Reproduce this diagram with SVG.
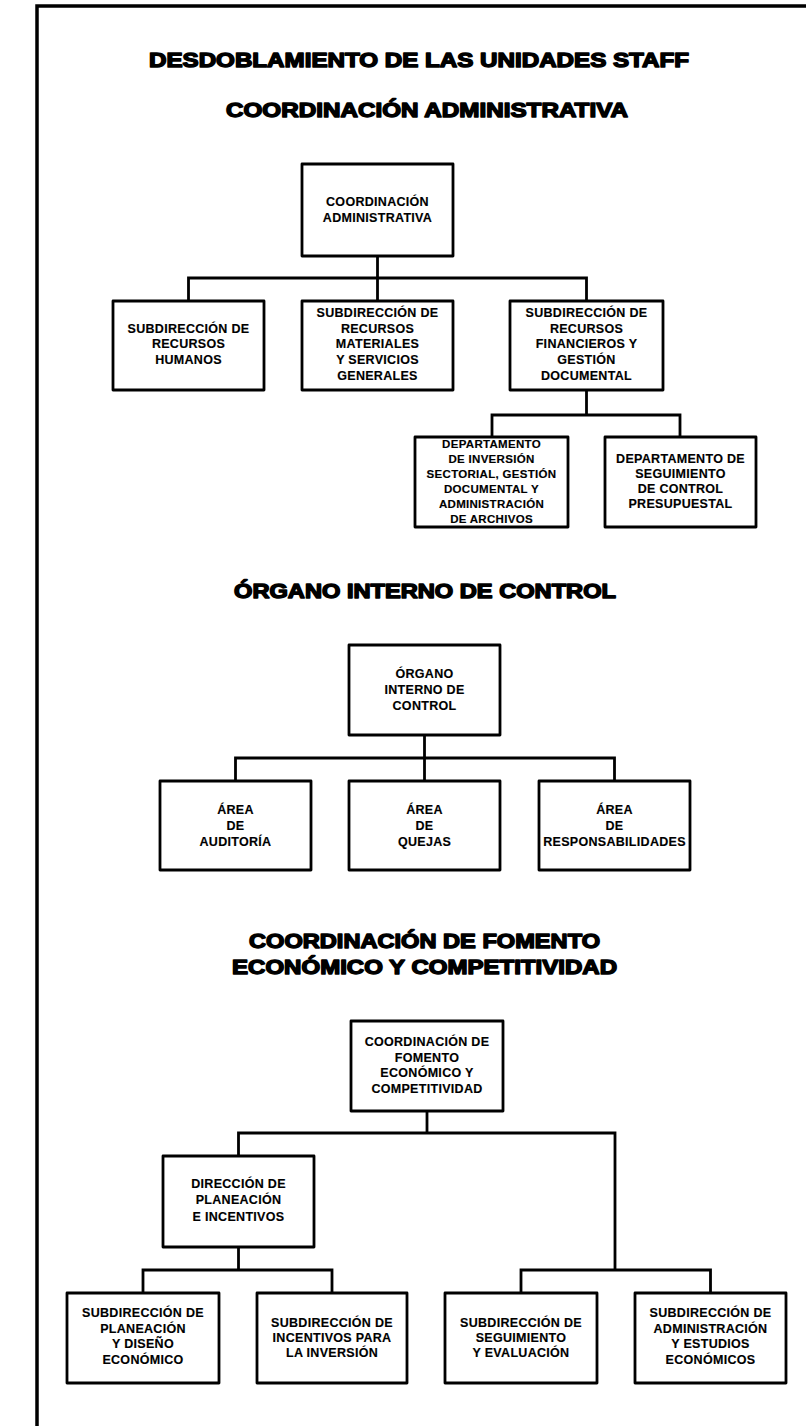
<svg xmlns="http://www.w3.org/2000/svg" width="806" height="1426" viewBox="0 0 806 1426">
<style>
.frame{fill:none;stroke:#000;stroke-width:3.5}
.box{fill:#fff;stroke:#000;stroke-width:2.8;stroke-linejoin:round}
.con{fill:none;stroke:#000;stroke-width:2.8;stroke-linejoin:miter;stroke-linecap:butt}
.t{font-family:"Liberation Sans",Arial,sans-serif;font-weight:bold;font-size:12.5px;letter-spacing:0.3px;text-anchor:middle;fill:#000;stroke:#000;stroke-width:0.15}
.s{font-size:11.5px}
.h{font-family:"Liberation Sans",Arial,sans-serif;font-weight:bold;font-size:19.5px;text-anchor:middle;fill:#000;stroke:#000;stroke-width:1.4;stroke-linejoin:round}
</style>
<rect width="806" height="1426" fill="#fff"/>
<path class="frame" d="M37,1426 V6 H806"/>

<g id="titles">
<text class="h" x="419" y="67" textLength="540" lengthAdjust="spacingAndGlyphs">DESDOBLAMIENTO DE LAS UNIDADES STAFF</text>
<text class="h" x="427" y="117" textLength="402" lengthAdjust="spacingAndGlyphs">COORDINACIÓN ADMINISTRATIVA</text>
<text class="h" x="425" y="598" textLength="382" lengthAdjust="spacingAndGlyphs">ÓRGANO INTERNO DE CONTROL</text>
<text class="h" x="424.5" y="948" textLength="351" lengthAdjust="spacingAndGlyphs">COORDINACIÓN DE FOMENTO</text>
<text class="h" x="424.5" y="974" textLength="385" lengthAdjust="spacingAndGlyphs">ECONÓMICO Y COMPETITIVIDAD</text>
</g>

<g id="connectors">
<path class="con" d="M188.5,301 V278 H586.5 V301"/>
<path class="con" d="M377.5,256 V301"/>
<path class="con" d="M586.5,390 V415"/>
<path class="con" d="M492,437 V415 H680 V437"/>
<path class="con" d="M235.5,781 V758 H614.5 V781"/>
<path class="con" d="M424.5,735 V781"/>
<path class="con" d="M427,1111 V1133"/>
<path class="con" d="M238.5,1156 V1133 H615 V1270"/>
<path class="con" d="M238.5,1247 V1270"/>
<path class="con" d="M143,1293 V1270 H332 V1293"/>
<path class="con" d="M521,1293 V1270 H710.5 V1293"/>
</g>

<g id="coord-admin">
<rect class="box" x="302" y="164" width="151" height="92"/>
<text class="t" x="377.5" y="206">COORDINACIÓN</text>
<text class="t" x="377.5" y="222">ADMINISTRATIVA</text>
</g>
<g id="sub-rh">
<rect class="box" x="113" y="301" width="151" height="89"/>
<text class="t" x="188.5" y="333">SUBDIRECCIÓN DE</text>
<text class="t" x="188.5" y="348">RECURSOS</text>
<text class="t" x="188.5" y="364">HUMANOS</text>
</g>
<g id="sub-rm">
<rect class="box" x="302" y="301" width="151" height="89"/>
<text class="t" x="377.5" y="317">SUBDIRECCIÓN DE</text>
<text class="t" x="377.5" y="333">RECURSOS</text>
<text class="t" x="377.5" y="348">MATERIALES</text>
<text class="t" x="377.5" y="364">Y SERVICIOS</text>
<text class="t" x="377.5" y="380">GENERALES</text>
</g>
<g id="sub-rf">
<rect class="box" x="510" y="301" width="153" height="89"/>
<text class="t" x="586.5" y="317">SUBDIRECCIÓN DE</text>
<text class="t" x="586.5" y="333">RECURSOS</text>
<text class="t" x="586.5" y="348">FINANCIEROS Y</text>
<text class="t" x="586.5" y="364">GESTIÓN</text>
<text class="t" x="586.5" y="380">DOCUMENTAL</text>
</g>
<g id="dep-inv">
<rect class="box" x="415" y="437" width="153" height="90"/>
<text class="t s" x="491.5" y="448">DEPARTAMENTO</text>
<text class="t s" x="491.5" y="463">DE INVERSIÓN</text>
<text class="t s" x="491.5" y="478">SECTORIAL, GESTIÓN</text>
<text class="t s" x="491.5" y="493">DOCUMENTAL Y</text>
<text class="t s" x="491.5" y="508">ADMINISTRACIÓN</text>
<text class="t s" x="491.5" y="523">DE ARCHIVOS</text>
</g>
<g id="dep-seg">
<rect class="box" x="605" y="437" width="151" height="90"/>
<text class="t" x="680.5" y="463">DEPARTAMENTO DE</text>
<text class="t" x="680.5" y="478">SEGUIMIENTO</text>
<text class="t" x="680.5" y="493">DE CONTROL</text>
<text class="t" x="680.5" y="508">PRESUPUESTAL</text>
</g>

<g id="oic">
<rect class="box" x="349" y="645" width="151" height="90"/>
<text class="t" x="424.5" y="678">ÓRGANO</text>
<text class="t" x="424.5" y="694">INTERNO DE</text>
<text class="t" x="424.5" y="710">CONTROL</text>
</g>
<g id="area-aud">
<rect class="box" x="160" y="781" width="151" height="89"/>
<text class="t" x="235.5" y="814">ÁREA</text>
<text class="t" x="235.5" y="830">DE</text>
<text class="t" x="235.5" y="846">AUDITORÍA</text>
</g>
<g id="area-quejas">
<rect class="box" x="349" y="781" width="151" height="89"/>
<text class="t" x="424.5" y="814">ÁREA</text>
<text class="t" x="424.5" y="830">DE</text>
<text class="t" x="424.5" y="846">QUEJAS</text>
</g>
<g id="area-resp">
<rect class="box" x="539" y="781" width="151" height="89"/>
<text class="t" x="614.5" y="814">ÁREA</text>
<text class="t" x="614.5" y="830">DE</text>
<text class="t" x="614.5" y="846">RESPONSABILIDADES</text>
</g>

<g id="coord-fomento">
<rect class="box" x="351" y="1021" width="152" height="90"/>
<text class="t" x="427" y="1046">COORDINACIÓN DE</text>
<text class="t" x="427" y="1062">FOMENTO</text>
<text class="t" x="427" y="1077">ECONÓMICO Y</text>
<text class="t" x="427" y="1093">COMPETITIVIDAD</text>
</g>
<g id="dir-planeacion">
<rect class="box" x="163" y="1156" width="151" height="91"/>
<text class="t" x="238.5" y="1188">DIRECCIÓN DE</text>
<text class="t" x="238.5" y="1204">PLANEACIÓN</text>
<text class="t" x="238.5" y="1221">E INCENTIVOS</text>
</g>
<g id="sub-planeacion">
<rect class="box" x="67" y="1293" width="152" height="90"/>
<text class="t" x="143" y="1317">SUBDIRECCIÓN DE</text>
<text class="t" x="143" y="1333">PLANEACIÓN</text>
<text class="t" x="143" y="1348">Y DISEÑO</text>
<text class="t" x="143" y="1364">ECONÓMICO</text>
</g>
<g id="sub-incentivos">
<rect class="box" x="257" y="1293" width="150" height="90"/>
<text class="t" x="332" y="1327">SUBDIRECCIÓN DE</text>
<text class="t" x="332" y="1342">INCENTIVOS PARA</text>
<text class="t" x="332" y="1357">LA INVERSIÓN</text>
</g>
<g id="sub-seguimiento">
<rect class="box" x="445" y="1293" width="152" height="90"/>
<text class="t" x="521" y="1327">SUBDIRECCIÓN DE</text>
<text class="t" x="521" y="1342">SEGUIMIENTO</text>
<text class="t" x="521" y="1357">Y EVALUACIÓN</text>
</g>
<g id="sub-administracion">
<rect class="box" x="635" y="1293" width="151" height="90"/>
<text class="t" x="710.5" y="1317">SUBDIRECCIÓN DE</text>
<text class="t" x="710.5" y="1333">ADMINISTRACIÓN</text>
<text class="t" x="710.5" y="1348">Y ESTUDIOS</text>
<text class="t" x="710.5" y="1364">ECONÓMICOS</text>
</g>
</svg>
